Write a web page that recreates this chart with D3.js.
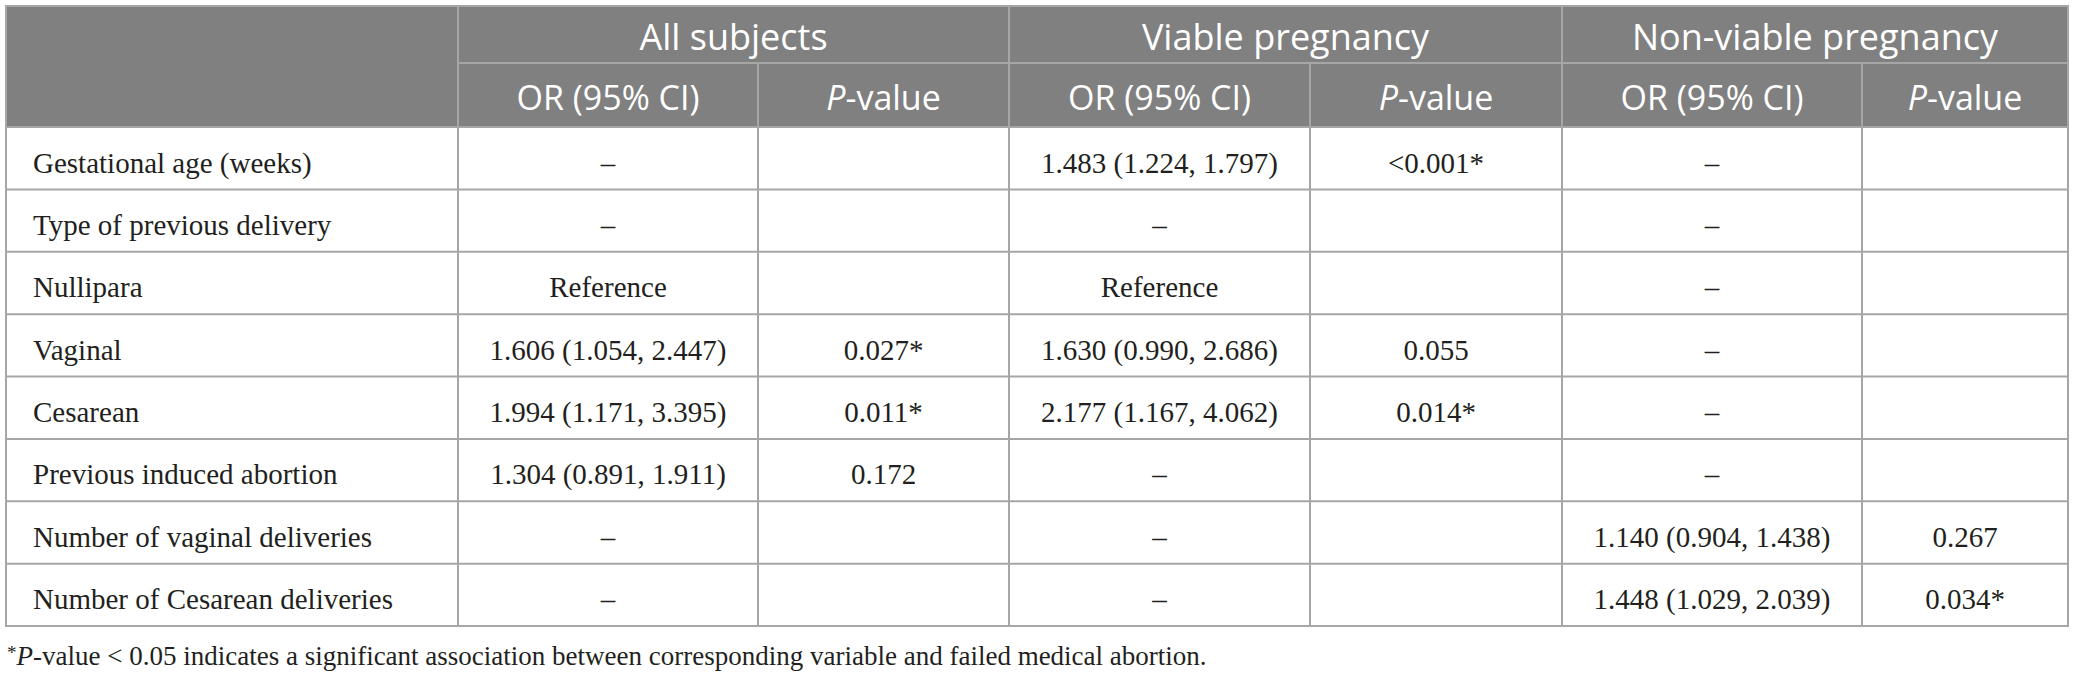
<!DOCTYPE html>
<html>
<head>
    <meta charset="UTF-8">
    <title></title>
    <script src="https://cdn.jsdelivr.net/npm/d3@7"></script>
    <style>
        body{
            padding: 0;
            margin: 0;
            background: #fff;
        }
        .head text{
            font-family: "Open Sans", sans-serif;
            fill: #fff;
        }
        .cell text, .note{
            font-family: "Liberation Serif", serif;
            fill: #231f20;
        }
    </style>
</head>
<body>
<div class="first"></div>

<script>

    // table content
    var variables = ["Gestational age (weeks)", "Type of previous delivery", "Nullipara", "Vaginal",
        "Cesarean", "Previous induced abortion", "Number of vaginal deliveries", "Number of Cesarean deliveries"];
    var groups = ["All subjects", "Viable pregnancy", "Non-viable pregnancy"];
    var subHeads = ["OR (95% CI)", "P-value"];

    var allOR = ["–", "–", "Reference", "1.606 (1.054, 2.447)", "1.994 (1.171, 3.395)", "1.304 (0.891, 1.911)", "–", "–"];
    var allP = ["", "", "", "0.027*", "0.011*", "0.172", "", ""];
    var viableOR = ["1.483 (1.224, 1.797)", "–", "Reference", "1.630 (0.990, 2.686)", "2.177 (1.167, 4.062)", "–", "–", "–"];
    var viableP = ["<0.001*", "", "", "0.055", "0.014*", "", "", ""];
    var nonOR = ["–", "–", "–", "–", "–", "–", "1.140 (0.904, 1.438)", "1.448 (1.029, 2.039)"];
    var nonP = ["", "", "", "", "", "", "0.267", "0.034*"];

    var footnote = "-value < 0.05 indicates a significant association between corresponding variable and failed medical abortion.";

    var cols = ["var", "allOR", "allP", "vOR", "vP", "nOR", "nP"];
    var colData = [variables, allOR, allP, viableOR, viableP, nonOR, nonP];

    var W = 2075, H = 680;
    var left = 6, right = 2068, topY = 6;
    var head1 = 63, head2 = 127, bottom = 626;
    var lineCol = "#a6a6a6", headFill = "#808080";

    var svg = d3.select("body").select(".first")
        .append("svg")
        .attr("width", W)
        .attr("height", H);

    // column edges
    var xLeft = d3.scaleOrdinal()
        .domain(cols)
        .range([left, 458, 758, 1009, 1310, 1562, 1862]);
    var xRight = function(c){
        var i = cols.indexOf(c);
        return i === cols.length - 1 ? right : xLeft(cols[i + 1]);
    };

    // data rows
    var y = d3.scaleBand()
        .domain(d3.range(variables.length))
        .range([head2, bottom])
        .padding(0);

    // header background
    var head = svg.append("g").attr("class", "head");
    head.append("rect")
        .attr("x", left).attr("y", topY)
        .attr("width", right - left).attr("height", head2 - topY)
        .attr("fill", headFill);

    // group titles
    head.selectAll(".grp")
        .data(groups)
        .enter()
        .append("text")
        .attr("class", "grp")
        .attr("x", function(d, i){
            return (xLeft(cols[1 + 2 * i]) + xRight(cols[2 + 2 * i])) / 2;
        })
        .attr("y", topY + 44)
        .attr("text-anchor", "middle")
        .style("font-size", "36px")
        .text(function(d){ return d; });

    // sub headers
    var subs = head.selectAll(".sub")
        .data(cols.slice(1))
        .enter()
        .append("text")
        .attr("class", "sub")
        .attr("x", function(c){ return (xLeft(c) + xRight(c)) / 2; })
        .attr("y", head1 + 47)
        .attr("text-anchor", "middle")
        .style("font-size", "34px");
    subs.each(function(c, i){
        var t = d3.select(this);
        if (i % 2 === 0) {
            t.text(subHeads[0]);
        } else {
            t.append("tspan").style("font-style", "italic").text("P");
            t.append("tspan").text("-value");
        }
    });

    // body cells
    var rows = svg.selectAll(".cell")
        .data(d3.range(variables.length))
        .enter()
        .append("g")
        .attr("class", "cell");

    cols.forEach(function(c, ci){
        rows.append("text")
            .attr("x", ci === 0 ? xLeft(c) + 27 : (xLeft(c) + xRight(c)) / 2)
            .attr("y", function(r){ return y(r) + y.bandwidth() * 0.73; })
            .attr("text-anchor", ci === 0 ? "start" : "middle")
            .style("font-size", "29px")
            .text(function(r){ return colData[ci][r]; });
    });

    // grid lines
    var grid = svg.append("g")
        .attr("stroke", lineCol)
        .attr("stroke-width", 2)
        .attr("fill", "none");

    grid.selectAll(".hl")
        .data(d3.range(1, variables.length))
        .enter()
        .append("line")
        .attr("x1", left).attr("x2", right)
        .attr("y1", function(r){ return y(r); })
        .attr("y2", function(r){ return y(r); });

    grid.append("line")
        .attr("x1", left).attr("x2", right)
        .attr("y1", head2).attr("y2", head2);
    grid.append("line")
        .attr("x1", xLeft("allOR")).attr("x2", right)
        .attr("y1", head1).attr("y2", head1);

    grid.selectAll(".vl")
        .data(cols.slice(1))
        .enter()
        .append("line")
        .attr("x1", function(c){ return xLeft(c); })
        .attr("x2", function(c){ return xLeft(c); })
        .attr("y1", function(c, i){ return i % 2 === 0 ? topY : head1; })
        .attr("y2", bottom);

    grid.append("rect")
        .attr("x", left).attr("y", topY)
        .attr("width", right - left).attr("height", bottom - topY);

    // footnote
    var note = svg.append("text")
        .attr("class", "note")
        .attr("x", 7)
        .attr("y", 663)
        .style("font-size", "27px");
    note.append("tspan").attr("dy", "-0.2em").style("font-size", "19px").text("*");
    note.append("tspan").attr("dy", "0.2em").style("font-style", "italic").text("P");
    note.append("tspan").text(footnote);

</script>
</body>
</html>
